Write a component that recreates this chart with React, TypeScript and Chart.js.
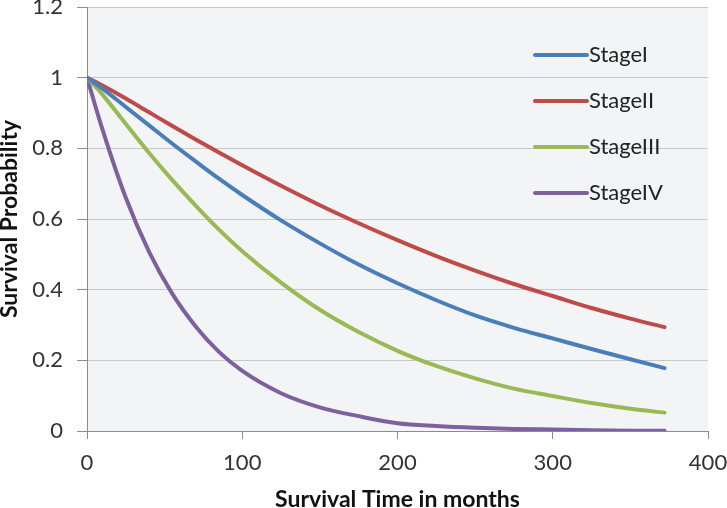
import React, { useEffect, useRef } from "react";
import { Chart, registerables } from "chart.js";
Chart.register(...registerables);

// Survival time in months (x values)
const months = [0, 10, 25, 40, 55, 70, 85, 100, 125, 150, 175, 200, 225, 250, 275, 300, 325, 350, 372];
// Survival probability per stage
const stageI = [1, 0.969, 0.917, 0.865, 0.813, 0.763, 0.714, 0.668, 0.596, 0.531, 0.471, 0.418, 0.37, 0.327, 0.292, 0.262, 0.232, 0.203, 0.178];
const stageII = [1, 0.978, 0.941, 0.902, 0.863, 0.825, 0.788, 0.752, 0.694, 0.639, 0.588, 0.54, 0.495, 0.454, 0.416, 0.382, 0.348, 0.318, 0.294];
const stageIII = [1, 0.952, 0.869, 0.787, 0.71, 0.638, 0.57, 0.509, 0.42, 0.343, 0.28, 0.227, 0.184, 0.149, 0.12, 0.099, 0.079, 0.063, 0.052];
const stageIV = [1, 0.853, 0.66, 0.507, 0.388, 0.296, 0.224, 0.17, 0.107, 0.067, 0.042, 0.022, 0.014, 0.009, 0.006, 0.004, 0.002, 0.001, 0.001];

const seriesNames = ["StageI", "StageII", "StageIII", "StageIV"];
const seriesValues = [stageI, stageII, stageIII, stageIV];
const seriesColors = ["#4a7ebb", "#be4b48", "#98b954", "#7d60a0"];

const xTitle = "Survival Time in months";
const yTitle = "Survival Probability";

const FONT = "Lato, 'Open Sans', sans-serif";

const plotBg = {
  id: "plotBg",
  beforeDraw(chart: any) {
    const { ctx, chartArea } = chart;
    ctx.save();
    ctx.fillStyle = "#f3f4f6";
    ctx.fillRect(chartArea.left, chartArea.top, chartArea.right - chartArea.left, chartArea.bottom - chartArea.top);
    ctx.restore();
  },
};

const insideLegend = {
  id: "insideLegend",
  afterDraw(chart: any) {
    const { ctx, chartArea } = chart;
    const lineStart = chartArea.right - 173;
    const lineLen = 52;
    const firstRow = chartArea.top + 48;
    const rowGap = 46;
    ctx.save();
    ctx.font = `22px ${FONT}`;
    ctx.textBaseline = "middle";
    ctx.textAlign = "left";
    chart.data.datasets.forEach((ds: any, i: number) => {
      const y = firstRow + i * rowGap;
      ctx.strokeStyle = ds.borderColor;
      ctx.lineWidth = 4;
      ctx.lineCap = "round";
      ctx.beginPath();
      ctx.moveTo(lineStart, y);
      ctx.lineTo(lineStart + lineLen, y);
      ctx.stroke();
      ctx.fillStyle = "#222";
      ctx.fillText(ds.label, lineStart + lineLen + 2, y);
    });
    ctx.restore();
  },
};

function noPad(scale: any) {
  scale.paddingLeft = 0;
  scale.paddingRight = 0;
  scale.paddingTop = 0;
  scale.paddingBottom = 0;
}

export default function App() {
  const ref = useRef<HTMLCanvasElement | null>(null);
  useEffect(() => {
    document.body.style.margin = "0";
    const canvas = ref.current!;
    const chart = new Chart(canvas, {
      type: "line",
      data: {
        datasets: seriesNames.map((name, i) => ({
          label: name,
          data: months.map((m, j) => ({ x: m, y: seriesValues[i][j] })),
          borderColor: seriesColors[i],
          backgroundColor: seriesColors[i],
          borderWidth: 4,
          pointRadius: 0,
          cubicInterpolationMode: "monotone" as const,
          borderCapStyle: "round" as const,
          fill: false,
        })),
      },
      options: {
        responsive: false,
        animation: false,
        layout: { autoPadding: false, padding: { top: 7, right: 19, bottom: 0, left: 0 } },
        plugins: { legend: { display: false }, tooltip: { enabled: false } },
        scales: {
          x: {
            type: "linear",
            min: 0,
            max: 400,
            ticks: { stepSize: 100, color: "#333", font: { family: FONT, size: 22 }, padding: 11, maxRotation: 0 },
            grid: { drawOnChartArea: false, drawTicks: true, tickLength: 8, color: "#8c8c8c" },
            border: { color: "#8c8c8c", width: 1 },
            title: { display: true, text: xTitle, color: "#111", font: { family: FONT, size: 23, weight: "bold", lineHeight: 1 }, padding: { top: 0, bottom: -3 } },
            afterFit(scale: any) { scale.height = 77; noPad(scale); },
          },
          y: {
            type: "linear",
            min: 0,
            max: 1.2,
            ticks: {
              stepSize: 0.2,
              color: "#333",
              font: { family: FONT, size: 22 },
              padding: 14,
              callback: (v: any) => String(Number(Number(v).toFixed(1))),
            },
            grid: { color: "#c8c8c8", tickLength: 10, tickColor: "#8c8c8c" },
            border: { color: "#8c8c8c", width: 1 },
            title: { display: true, text: yTitle, color: "#111", font: { family: FONT, size: 23, weight: "bold", lineHeight: 1 }, padding: { top: -2, bottom: 0 } },
            afterFit(scale: any) { scale.width = 87; noPad(scale); },
          },
        },
      } as any,
      plugins: [plotBg, insideLegend],
    });
    return () => chart.destroy();
  }, []);
  return (
    <div style={{ width: 727, height: 508, position: "relative" }}>
      <canvas ref={ref} width={727} height={508} style={{ position: "absolute", left: 0, top: 0, width: 727, height: 508 }} />
    </div>
  );
}
